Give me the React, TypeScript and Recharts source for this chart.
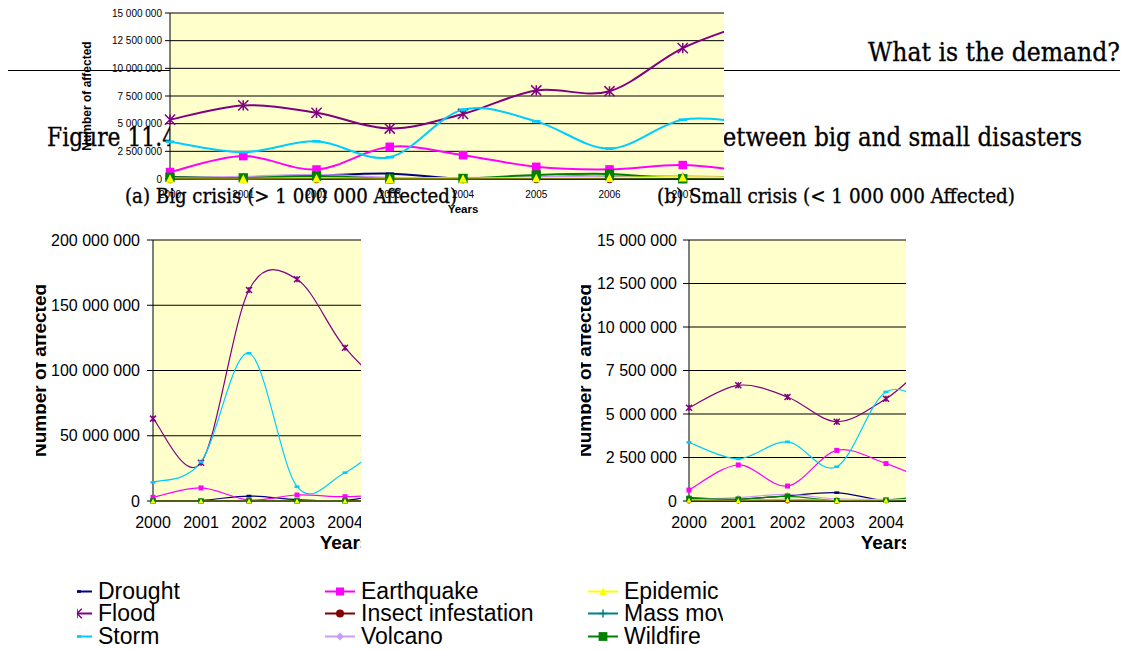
import React from 'react';
import { LineChart, Line, XAxis, YAxis, CartesianGrid } from 'recharts';

// years on the category axis
const years = ['2000', '2001', '2002', '2003', '2004', '2005', '2006', '2007', '2008'];

const seriesNames = ['Drought', 'Earthquake', 'Epidemic', 'Flood', 'Insect infestation', 'Mass movement', 'Storm', 'Volcano', 'Wildfire'];
const seriesKeys = ['drought', 'earthquake', 'epidemic', 'flood', 'insect', 'mass', 'storm', 'volcano', 'wildfire'];

// small crises (< 1 000 000 affected), millions of people
const smallDrought = [0.19, 0.1, 0.3, 0.48, 0.02, 0.12, 0.3, 0.05, 0.1];
const smallEarthquake = [0.63, 2.07, 0.86, 2.91, 2.15, 1.1, 0.87, 1.26, 0.59];
const smallEpidemic = [0.04, 0.03, 0.06, 0.03, 0.05, 0.08, 0.12, 0.15, 0.1];
const smallFlood = [5.36, 6.65, 5.98, 4.56, 5.88, 8.0, 7.93, 11.83, 14.3];
const smallInsect = [0, 0, 0, 0, 0.01, 0, 0, 0, 0];
const smallMass = [0.05, 0.02, 0.1, 0.03, 0.02, 0.05, 0.04, 0.06, 0.03];
const smallStorm = [3.37, 2.42, 3.4, 1.97, 6.27, 5.21, 2.75, 5.36, 5.0];
const smallVolcano = [0.1, 0.2, 0.38, 0.12, 0.1, 0.15, 0.3, 0.25, 0.1];
const smallWildfire = [0.15, 0.1, 0.27, 0.02, 0.05, 0.36, 0.45, 0.02, 0.3];

// big crises (> 1 000 000 affected), millions of people
const bigDrought = [0.3, 0.5, 3.8, 1.0, 0.3, 7, 10, 6, 8];
const bigEarthquake = [2.8, 10.0, 0.8, 4.6, 3.3, 5, 4, 3, 6];
const bigEpidemic = [0, 0, 0, 0, 0, 0, 0, 0, 0];
const bigFlood = [63.1, 29.3, 161.7, 169.9, 117.5, 85, 80, 165, 45];
const bigInsect = [0, 0, 0, 0, 0, 0, 0, 0, 0];
const bigMass = [0, 0, 0, 0, 0, 0, 0, 0, 0];
const bigStorm = [14.3, 29.9, 113.2, 11.0, 21.7, 44, 30, 40, 40];
const bigVolcano = [0, 0, 0, 0, 0, 0, 0, 0, 0];
const bigWildfire = [0, 0, 0, 0, 0, 0, 0, 0, 0];

const smallTicks = [0, 2.5, 5, 7.5, 10, 12.5, 15];
const bigTicks = [0, 50, 100, 150, 200];

const buildRows = (cols: number[][]) =>
  years.map((year, i) => {
    const row: any = { year };
    seriesKeys.forEach((k, j) => (row[k] = cols[j][i]));
    return row;
  });

const smallRows = buildRows([smallDrought, smallEarthquake, smallEpidemic, smallFlood, smallInsect, smallMass, smallStorm, smallVolcano, smallWildfire]);
const bigRows = buildRows([bigDrought, bigEarthquake, bigEpidemic, bigFlood, bigInsect, bigMass, bigStorm, bigVolcano, bigWildfire]);

const seriesStyle: Record<string, { color: string; shape: string; k: number }> = {
  drought: { color: '#000080', shape: 'dash', k: 1 },
  earthquake: { color: '#FF00FF', shape: 'square', k: 1 },
  epidemic: { color: '#FFFF00', shape: 'triangle', k: 1 },
  flood: { color: '#800080', shape: 'star', k: 1.2 },
  insect: { color: '#800000', shape: 'circle', k: 1 },
  mass: { color: '#008080', shape: 'plus', k: 1 },
  storm: { color: '#00CCFF', shape: 'dash', k: 1 },
  volcano: { color: '#CC99FF', shape: 'diamond', k: 1 },
  wildfire: { color: '#008000', shape: 'square', k: 1.1 },
};

// epidemic last so the triangles sit on top like in excel
const drawOrder = ['drought', 'earthquake', 'flood', 'insect', 'mass', 'storm', 'volcano', 'wildfire', 'epidemic'];

const fmt = (v: number) => String(Math.round(v * 1e6)).replace(/\B(?=(\d{3})+(?!\d))/g, ' ');

// excel-like smoothing (catmull-rom through the points)
const excelSmooth = (context: any) => {
  let pts: number[][] = [];
  return {
    areaStart() {},
    areaEnd() {},
    lineStart() {
      pts = [];
    },
    point(x: number, y: number) {
      pts.push([+x, +y]);
    },
    lineEnd() {
      if (!pts.length) return;
      context.moveTo(pts[0][0], pts[0][1]);
      for (let i = 0; i < pts.length - 1; i++) {
        const p0 = pts[i - 1] || pts[i];
        const p1 = pts[i];
        const p2 = pts[i + 1];
        const p3 = pts[i + 2] || pts[i + 1];
        context.bezierCurveTo(
          p1[0] + (p2[0] - p0[0]) / 6, p1[1] + (p2[1] - p0[1]) / 6,
          p2[0] - (p3[0] - p1[0]) / 6, p2[1] - (p3[1] - p1[1]) / 6,
          p2[0], p2[1]
        );
      }
    },
  };
};

function MarkerShape({ shape, x, y, s, color }: any) {
  const h = s / 2;
  if (shape === 'square') return <rect x={x - h} y={y - h} width={s} height={s} fill={color} />;
  if (shape === 'triangle') return <polygon points={`${x},${y - h} ${x + h},${y + h} ${x - h},${y + h}`} fill={color} />;
  if (shape === 'circle') return <circle cx={x} cy={y} r={h} fill={color} />;
  if (shape === 'diamond') return <polygon points={`${x},${y - h} ${x + h},${y} ${x},${y + h} ${x - h},${y}`} fill={color} />;
  if (shape === 'plus') return <path d={`M${x - h},${y}H${x + h}M${x},${y - h}V${y + h}`} stroke={color} strokeWidth={1.5} />;
  if (shape === 'star')
    return (
      <path
        d={`M${x - h},${y - h}L${x + h},${y + h}M${x - h},${y + h}L${x + h},${y - h}M${x},${y - h}V${y + h}`}
        stroke={color}
        strokeWidth={1.5}
        fill="none"
      />
    );
  return <rect x={x - h} y={y - 1.3} width={s} height={2.6} fill={color} />;
}

const makeDot = (key: string, size: number) => (p: any) => {
  const st = seriesStyle[key];
  if (p.cx == null || p.cy == null) return <g key={`n${p.index}`} />;
  return <MarkerShape key={`m${key}${p.index}`} shape={st.shape} x={p.cx} y={p.cy} s={size * st.k} color={st.color} />;
};

const topCfg = {
  clip: [60, 0, 664, 215],
  left: 60, top: 0, width: 720, height: 215,
  margin: { top: 13, right: 24, left: 10, bottom: 0 },
  yWidth: 100, xHeight: 36, max: 15, ticks: smallTicks,
  tickFont: 10, yTickSize: 5, yTickMargin: 3, xTickMargin: 6,
  yLabelFont: 12, yLabelOffset: 17, xLabel: 'Years', xLabelFont: 11.5,
  lineWidth: 2, marker: 8.5,
};

const bigCfg = {
  clip: [36, 225, 325, 330],
  left: 20, top: 225, width: 537, height: 330,
  margin: { top: 15, right: 20, left: 14, bottom: 4 },
  yWidth: 119, xHeight: 50, max: 200, ticks: bigTicks,
  tickFont: 16, yTickSize: 6, yTickMargin: 7, xTickMargin: 10,
  yLabelFont: 19, yLabelOffset: 5, xLabel: 'Years', xLabelFont: 19,
  lineWidth: 1.2, marker: 5,
};

const smallCfg = {
  clip: [581, 225, 325, 330],
  left: 560, top: 225, width: 543, height: 330,
  margin: { top: 15, right: 20, left: 20, bottom: 4 },
  yWidth: 109, xHeight: 50, max: 15, ticks: smallTicks,
  tickFont: 16, yTickSize: 6, yTickMargin: 6, xTickMargin: 10,
  yLabelFont: 19, yLabelOffset: 4, xLabel: 'Years', xLabelFont: 19,
  lineWidth: 1.2, marker: 5,
};

function ChartPanel({ cfg, rows }: any) {
  return (
    <div
      style={{
        position: 'absolute', left: cfg.clip[0], top: cfg.clip[1], width: cfg.clip[2], height: cfg.clip[3],
        overflow: 'hidden', fontFamily: '"Liberation Sans", Arial, sans-serif',
      }}
    >
      <div style={{ position: 'absolute', left: cfg.left - cfg.clip[0], top: cfg.top - cfg.clip[1] }}>
        <LineChart width={cfg.width} height={cfg.height} data={rows} margin={cfg.margin}>
          <CartesianGrid vertical={false} stroke="#000" fill="#FFFFCC" fillOpacity={1} />
          <XAxis
            dataKey="year"
            interval={0}
            tickLine={false}
            axisLine={{ stroke: '#000' }}
            tick={{ fontSize: cfg.tickFont, fill: '#000' }}
            tickMargin={cfg.xTickMargin}
            height={cfg.xHeight}
            label={{ value: cfg.xLabel, position: 'insideBottom', offset: 2, fontSize: cfg.xLabelFont, fontWeight: 'bold', fill: '#000' }}
          />
          <YAxis
            domain={[0, cfg.max]}
            ticks={cfg.ticks}
            interval={0}
            tickFormatter={fmt}
            width={cfg.yWidth}
            axisLine={{ stroke: '#000' }}
            tickLine={{ stroke: '#000' }}
            tickSize={cfg.yTickSize}
            tickMargin={cfg.yTickMargin}
            tick={{ fontSize: cfg.tickFont, fill: '#000' }}
            label={{
              value: 'Number of affected', angle: -90, position: 'insideLeft', offset: cfg.yLabelOffset,
              fontSize: cfg.yLabelFont, fontWeight: 'bold', fill: '#000', style: { textAnchor: 'middle' },
            }}
          />
          {drawOrder.map((k) => (
            <Line
              key={k}
              dataKey={k}
              type={excelSmooth as any}
              stroke={seriesStyle[k].color}
              strokeWidth={cfg.lineWidth}
              dot={makeDot(k, cfg.marker)}
              activeDot={false}
              isAnimationActive={false}
            />
          ))}
        </LineChart>
      </div>
    </div>
  );
}

function LegendBox() {
  const colX = [-15, 248, 511];
  const rowY = [13, 35, 58];
  return (
    <div
      style={{
        position: 'absolute', left: 77, top: 578, width: 646, height: 70, overflow: 'hidden',
        fontFamily: '"Liberation Sans", Arial, sans-serif', fontSize: 23, color: '#000',
      }}
    >
      {seriesNames.map((name, i) => {
        const st = seriesStyle[seriesKeys[i]];
        return (
          <div
            key={name}
            style={{
              position: 'absolute', left: colX[i % 3], top: rowY[Math.floor(i / 3)] - 11.5, height: 23,
              display: 'flex', alignItems: 'center', whiteSpace: 'nowrap',
            }}
          >
            <svg width={30} height={23}>
              <line x1={0} x2={30} y1={11.5} y2={11.5} stroke={st.color} strokeWidth={2} />
              <MarkerShape shape={st.shape} x={15} y={11.5} s={8 * st.k} color={st.color} />
            </svg>
            <span style={{ marginLeft: 6, lineHeight: '23px' }}>{name}</span>
          </div>
        );
      })}
    </div>
  );
}

function PageText() {
  return (
    <svg
      width={1125}
      height={650}
      style={{ position: 'absolute', left: 0, top: 0 }}
      fontFamily='"DejaVu Serif", serif'
      fill="#000"
      stroke="#000"
      strokeWidth={0.35}
    >
      <text x={868} y={61} fontSize={26} textLength={252} lengthAdjust="spacingAndGlyphs">What is the demand?</text>
      <line x1={8} x2={1120} y1={70.5} y2={70.5} stroke="#000" strokeWidth={1.2} />
      <text transform="translate(47,146) scale(0.84,1)" fontSize={26}>Figure 11.4: Comparison of the number of affected</text>
      <text x={708} y={146} fontSize={26} textLength={374} lengthAdjust="spacingAndGlyphs">between big and small disasters</text>
      <text x={125} y={203} fontSize={20} textLength={332} lengthAdjust="spacingAndGlyphs">(a) Big crisis (&gt; 1 000 000 Affected)</text>
      <text x={657} y={203} fontSize={20} textLength={358} lengthAdjust="spacingAndGlyphs">(b) Small crisis (&lt; 1 000 000 Affected)</text>
    </svg>
  );
}

export default function App() {
  return (
    <div style={{ position: 'absolute', left: 0, top: 0, width: 1125, height: 650, background: '#fff', overflow: 'hidden' }}>
      <PageText />
      <ChartPanel cfg={topCfg} rows={smallRows} />
      <ChartPanel cfg={bigCfg} rows={bigRows} />
      <ChartPanel cfg={smallCfg} rows={smallRows} />
      <LegendBox />
    </div>
  );
}
